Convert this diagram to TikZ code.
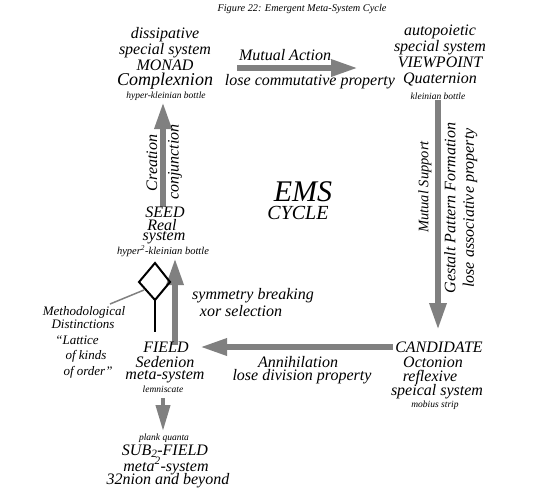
\documentclass[tikz,border=0pt]{standalone}
\usepackage{fontspec}
\setmainfont{Liberation Serif}
\usetikzlibrary{arrows.meta}
\definecolor{arrowgray}{HTML}{808080}
\tikzset{
  txt/.style={inner sep=0pt, align=center, font=\fontsize{16}{16}\selectfont\itshape},
  smtxt/.style={inner sep=0pt, align=center, font=\fontsize{14.5}{15}\selectfont\itshape},
  midtxt/.style={inner sep=0pt, align=center, font=\fontsize{13}{13}\selectfont\itshape},
  tiny/.style={inner sep=0pt, font=\fontsize{9.5}{10}\selectfont\itshape},
  bigarrow/.style={draw=arrowgray, line width=6pt, -{Triangle[length=27pt,width=16pt]}},
  diam/.style={draw=black, line width=2pt},
}
\begin{document}
\begin{tikzpicture}[x=1pt,y=-1pt]
\useasboundingbox (0,0) rectangle (557,491);
% title
\node[inner sep=0pt, font=\fontsize{10.3}{10}\selectfont\itshape] (title) at (302,9) {Figure 22: Emergent Meta-System Cycle};
% top-left
\node[txt] (monad) at (165,49) {dissipative\\special system\\MONAD};
\node[inner sep=0pt, font=\fontsize{18}{18}\selectfont\itshape] (complex) at (165,81) {Complexnion};
\node[tiny] (monadsub) at (166,96) {hyper-kleinian bottle};
% top-right
\node[txt] (viewpoint) at (440,55) {autopoietic\\special system\\VIEWPOINT\\Quaternion};
\node[tiny] (viewsub) at (438,96) {kleinian bottle};
% top arrow
\coordinate (ta1) at (237,68);
\coordinate (ta2) at (358,68);
\draw[bigarrow] (ta1) -- (ta2);
\node[txt] (mutact) at (285,55) {Mutual Action};
\node[txt] (losecom) at (310,82) {lose commutative property};
% EMS
\node[inner sep=0pt, font=\fontsize{30}{30}\selectfont\itshape] (ems) at (303,192) {EMS};
\node[inner sep=0pt, font=\fontsize{20}{20}\selectfont\itshape] (cycle) at (298,213) {CYCLE};
% left upper arrow
\coordinate (la1) at (163,207);
\coordinate (la2) at (163,102);
\draw[bigarrow] (la1) -- (la2);
\node[txt, rotate=90] (creation) at (152,163) {Creation};
\node[txt, rotate=90] (conj) at (175,162) {conjunction};
% seed
\node[txt] (seed) at (165,212) {SEED};
\node[txt] (real) at (162,225) {Real};
\node[txt] (system) at (164,238) {system};
\node[inner sep=0pt, font=\fontsize{10.5}{10}\selectfont\itshape] (seedsub) at (163,251) {hyper\textsuperscript{2}-kleinian bottle};
% right arrow
\coordinate (ra1) at (438,100);
\coordinate (ra2) at (438,330);
\draw[bigarrow] (ra1) -- (ra2);
\node[smtxt, rotate=90] (mutsup) at (425,187) {Mutual Support};
\node[txt, rotate=90] (gestalt) at (450,208) {Gestalt Pattern Formation};
\node[txt, rotate=90] (loseassoc) at (470,208) {lose associative property};
% candidate
\node[txt] (cand) at (439,347) {CANDIDATE};
\node[txt] (octo) at (433,362) {Octonion};
\node[txt] (refl) at (430,378) {reflexive};
\node[txt] (speical) at (437,392) {speical system};
\node[tiny] (mobius) at (435,405) {mobius strip};
% bottom arrow
\coordinate (ba1) at (393,347);
\coordinate (ba2) at (200,347);
\draw[bigarrow] (ba1) -- (ba2);
\node[txt] (annih) at (298,362) {Annihilation};
\node[txt] (losediv) at (302,377) {lose division property};
% left lower arrow
\coordinate (lb1) at (175,345);
\coordinate (lb2) at (175,258);
\draw[bigarrow] (lb1) -- (lb2);
\node[txt] (symbreak) at (253,296) {symmetry breaking};
\node[txt] (xorsel) at (241,311) {xor selection};
% diamond
\coordinate (dt) at (155,263);
\coordinate (dr) at (170,282);
\coordinate (db) at (155,300);
\coordinate (dl) at (139,282);
\coordinate (stem) at (155,332);
\draw[diam] (dt) -- (dr) -- (db) -- (dl) -- cycle;
\draw[diam] (db) -- (stem);
\coordinate (pt1) at (144,290);
\coordinate (pt2) at (110,304);
\draw[arrowgray, line width=1.5pt] (pt1) -- (pt2);
\node[midtxt] (meth) at (84,312) {Methodological};
\node[midtxt] (dist) at (83,324) {Distinctions};
\node[midtxt] (latt) at (77,340) {``Lattice};
\node[midtxt] (kinds) at (86,356) {of kinds};
\node[midtxt] (order) at (88,372) {of order''};
% field
\node[txt] (field) at (166,347) {FIELD};
\node[txt] (seden) at (165,362) {Sedenion};
\node[txt] (meta) at (165,377) {meta-system};
\node[tiny] (lemn) at (163,389) {lemniscate};
% small down arrow
\coordinate (sa1) at (163,398);
\coordinate (sa2) at (163,431);
\draw[draw=arrowgray, line width=4pt, -{Triangle[length=26pt,width=14pt]}] (sa1) -- (sa2);
% subfield
\node[tiny] (plank) at (164,438) {plank quanta};
\node[txt] (subfield) at (165,451) {SUB\textsubscript{2}-FIELD};
\node[txt] (meta2) at (166,466) {meta\textsuperscript{2}-system};
\node[txt] (beyond) at (168,481) {32nion and beyond};
\end{tikzpicture}
\end{document}
